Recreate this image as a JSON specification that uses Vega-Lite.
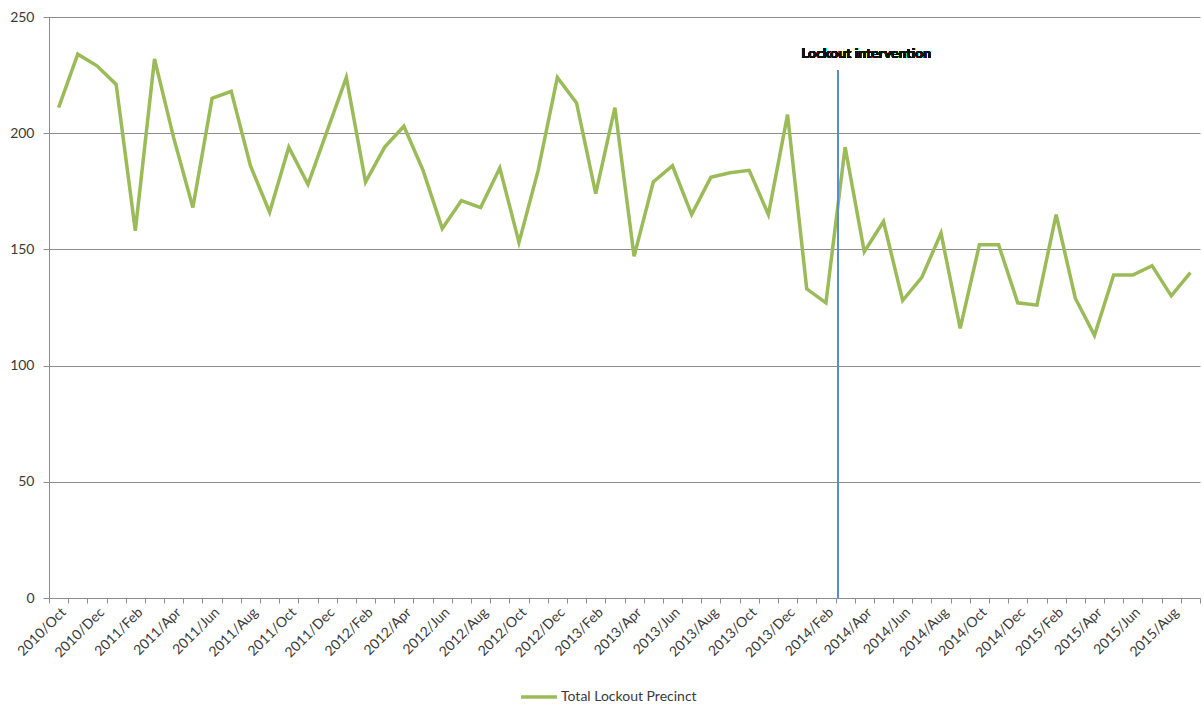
{
  "$schema": "https://vega.github.io/schema/vega-lite/v6.json",
  "autosize": {"type": "none"},
  "width": 1151,
  "height": 581,
  "padding": {"left": 49, "top": 17, "right": 4, "bottom": 107},
  "background": "white",
  "config": {
    "view": {"stroke": null},
    "font": "Lato",
    "axis": {"labelFont": "Lato", "labelColor": "#3a3a3a", "domainColor": "#8c8c8c", "tickColor": "#8c8c8c", "gridColor": "#8c8c8c", "title": null}
  },
  "data": {"values": [
    {"month": "2010/Oct", "count": 211, "series": "Total Lockout Precinct"},
    {"month": "2010/Nov", "count": 234, "series": "Total Lockout Precinct"},
    {"month": "2010/Dec", "count": 229, "series": "Total Lockout Precinct"},
    {"month": "2011/Jan", "count": 221, "series": "Total Lockout Precinct"},
    {"month": "2011/Feb", "count": 158, "series": "Total Lockout Precinct"},
    {"month": "2011/Mar", "count": 232, "series": "Total Lockout Precinct"},
    {"month": "2011/Apr", "count": 198, "series": "Total Lockout Precinct"},
    {"month": "2011/May", "count": 168, "series": "Total Lockout Precinct"},
    {"month": "2011/Jun", "count": 215, "series": "Total Lockout Precinct"},
    {"month": "2011/Jul", "count": 218, "series": "Total Lockout Precinct"},
    {"month": "2011/Aug", "count": 186, "series": "Total Lockout Precinct"},
    {"month": "2011/Sep", "count": 166, "series": "Total Lockout Precinct"},
    {"month": "2011/Oct", "count": 194, "series": "Total Lockout Precinct"},
    {"month": "2011/Nov", "count": 178, "series": "Total Lockout Precinct"},
    {"month": "2011/Dec", "count": 201, "series": "Total Lockout Precinct"},
    {"month": "2012/Jan", "count": 224, "series": "Total Lockout Precinct"},
    {"month": "2012/Feb", "count": 179, "series": "Total Lockout Precinct"},
    {"month": "2012/Mar", "count": 194, "series": "Total Lockout Precinct"},
    {"month": "2012/Apr", "count": 203, "series": "Total Lockout Precinct"},
    {"month": "2012/May", "count": 184, "series": "Total Lockout Precinct"},
    {"month": "2012/Jun", "count": 159, "series": "Total Lockout Precinct"},
    {"month": "2012/Jul", "count": 171, "series": "Total Lockout Precinct"},
    {"month": "2012/Aug", "count": 168, "series": "Total Lockout Precinct"},
    {"month": "2012/Sep", "count": 185, "series": "Total Lockout Precinct"},
    {"month": "2012/Oct", "count": 153, "series": "Total Lockout Precinct"},
    {"month": "2012/Nov", "count": 184, "series": "Total Lockout Precinct"},
    {"month": "2012/Dec", "count": 224, "series": "Total Lockout Precinct"},
    {"month": "2013/Jan", "count": 213, "series": "Total Lockout Precinct"},
    {"month": "2013/Feb", "count": 174, "series": "Total Lockout Precinct"},
    {"month": "2013/Mar", "count": 211, "series": "Total Lockout Precinct"},
    {"month": "2013/Apr", "count": 147, "series": "Total Lockout Precinct"},
    {"month": "2013/May", "count": 179, "series": "Total Lockout Precinct"},
    {"month": "2013/Jun", "count": 186, "series": "Total Lockout Precinct"},
    {"month": "2013/Jul", "count": 165, "series": "Total Lockout Precinct"},
    {"month": "2013/Aug", "count": 181, "series": "Total Lockout Precinct"},
    {"month": "2013/Sep", "count": 183, "series": "Total Lockout Precinct"},
    {"month": "2013/Oct", "count": 184, "series": "Total Lockout Precinct"},
    {"month": "2013/Nov", "count": 165, "series": "Total Lockout Precinct"},
    {"month": "2013/Dec", "count": 208, "series": "Total Lockout Precinct"},
    {"month": "2014/Jan", "count": 133, "series": "Total Lockout Precinct"},
    {"month": "2014/Feb", "count": 127, "series": "Total Lockout Precinct"},
    {"month": "2014/Mar", "count": 194, "series": "Total Lockout Precinct"},
    {"month": "2014/Apr", "count": 149, "series": "Total Lockout Precinct"},
    {"month": "2014/May", "count": 162, "series": "Total Lockout Precinct"},
    {"month": "2014/Jun", "count": 128, "series": "Total Lockout Precinct"},
    {"month": "2014/Jul", "count": 138, "series": "Total Lockout Precinct"},
    {"month": "2014/Aug", "count": 157, "series": "Total Lockout Precinct"},
    {"month": "2014/Sep", "count": 116, "series": "Total Lockout Precinct"},
    {"month": "2014/Oct", "count": 152, "series": "Total Lockout Precinct"},
    {"month": "2014/Nov", "count": 152, "series": "Total Lockout Precinct"},
    {"month": "2014/Dec", "count": 127, "series": "Total Lockout Precinct"},
    {"month": "2015/Jan", "count": 126, "series": "Total Lockout Precinct"},
    {"month": "2015/Feb", "count": 165, "series": "Total Lockout Precinct"},
    {"month": "2015/Mar", "count": 129, "series": "Total Lockout Precinct"},
    {"month": "2015/Apr", "count": 113, "series": "Total Lockout Precinct"},
    {"month": "2015/May", "count": 139, "series": "Total Lockout Precinct"},
    {"month": "2015/Jun", "count": 139, "series": "Total Lockout Precinct"},
    {"month": "2015/Jul", "count": 143, "series": "Total Lockout Precinct"},
    {"month": "2015/Aug", "count": 130, "series": "Total Lockout Precinct"},
    {"month": "2015/Sep", "count": 140, "series": "Total Lockout Precinct"}
  ]},
  "encoding": {
    "x": {
      "field": "month", "type": "ordinal", "sort": null,
      "scale": {"type": "band", "paddingInner": 0, "paddingOuter": 0},
      "axis": {
        "labelAngle": -45, "labelFontSize": 14, "tickSize": 5, "tickBand": "extent",
        "labelExpr": "test(/Oct|Dec|Feb|Apr|Jun|Aug/, datum.value) ? datum.value : ''",
        "labelPadding": 2
      }
    },
    "y": {
      "field": "count", "type": "quantitative",
      "scale": {"domain": [0, 250], "nice": false},
      "axis": {"values": [0, 50, 100, 150, 200, 250], "grid": true, "tickSize": 6, "labelFontSize": 14, "labelPadding": 9}
    }
  },
  "layer": [
    {
      "mark": {"type": "line", "strokeWidth": 3.5, "strokeJoin": "miter"},
      "encoding": {
        "x": {"field": "month", "type": "ordinal", "sort": null, "bandPosition": 0.5},
        "color": {
          "field": "series", "type": "nominal",
          "scale": {"range": ["#9bbb59"]},
          "legend": {
            "title": null, "orient": "none", "legendX": 470, "legendY": 660,
            "symbolType": "stroke", "symbolStrokeWidth": 3.5, "symbolSize": 1296,
            "labelFont": "Lato", "labelFontSize": 14, "labelColor": "#3a3a3a", "labelOffset": 2
          }
        }
      }
    },
    {
      "mark": {"type": "rule", "color": "#5b8bd0", "strokeWidth": 1, "xOffset": 2.5},
      "encoding": {
        "x": {"datum": "2014/Mar", "type": "ordinal", "bandPosition": 0},
        "y": {"datum": 0, "type": "quantitative"},
        "y2": {"datum": 227}
      }
    },
    {
      "mark": {"type": "text", "font": "Lato", "fontWeight": "bold", "fontSize": 14, "color": "#111111", "align": "center", "baseline": "middle", "dx": 2},
      "encoding": {
        "x": {"datum": "2014/Apr", "type": "ordinal"},
        "y": {"datum": 234, "type": "quantitative"},
        "text": {"value": "Lockout intervention"}
      }
    }
  ]
}
